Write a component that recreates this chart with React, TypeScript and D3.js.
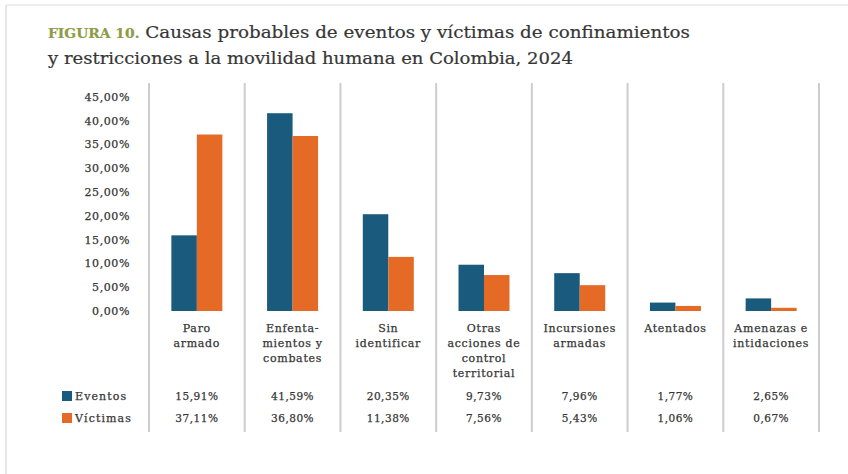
import React from "react";
import * as d3 from "d3";

const categories: string[][] = [
  ["Paro", "armado"],
  ["Enfenta-", "mientos y", "combates"],
  ["Sin", "identificar"],
  ["Otras", "acciones de", "control", "territorial"],
  ["Incursiones", "armadas"],
  ["Atentados"],
  ["Amenazas e", "intidaciones"],
];
const eventos = [15.91, 41.59, 20.35, 9.73, 7.96, 1.77, 2.65];
const victimas = [37.11, 36.8, 11.38, 7.56, 5.43, 1.06, 0.67];
const seriesNames = ["Eventos", "Víctimas"];
const yTicks = [0, 5, 10, 15, 20, 25, 30, 35, 40, 45];

const W = 848;
const H = 474;
const BLUE = "#1a5a7d";
const ORANGE = "#e56a26";
const GRID = "#cdcdcd";
const TEXT = "#363636";
const FONT = "'DejaVu Serif', 'Liberation Serif', serif";

const fmt = (v: number) => v.toFixed(2).replace(".", ",") + "%";

export default function App() {
  const keys = categories.map((_, i) => String(i));
  const x = d3.scaleBand<string>().domain(keys).range([149, 819]).paddingInner(0).paddingOuter(0);
  const y = d3.scaleLinear().domain([0, 45]).range([311, 97]);
  const bw = x.bandwidth();
  const x1 = d3.scaleBand<string>().domain(seriesNames).range([0, 51]);
  const series = [eventos, victimas];
  const colors = [BLUE, ORANGE];
  const edges = [...keys.map((k) => x(k)!), x.range()[1]];
  const small = { fontSize: 11, letterSpacing: 0.9, fill: TEXT, stroke: TEXT, strokeWidth: 0.25 };

  return (
    <svg
      width={W}
      height={H}
      style={{ position: "absolute", left: 0, top: 0, background: "#fff" }}
      fontFamily={FONT}
    >
      <rect x={0} y={0} width={W} height={H} fill="#fff" />
      <line x1={6} x2={W} y1={5} y2={5} stroke="#eeeeee" strokeWidth={2} />
      <line x1={6} x2={6} y1={5} y2={H} stroke="#e6e6e6" strokeWidth={2} />

      {/* Title */}
      <text x={48} y={38} fontSize={16.5} fill={TEXT} stroke={TEXT} strokeWidth={0.2} textLength={642} lengthAdjust="spacingAndGlyphs">
        <tspan fill="#8d9b46" stroke="#8d9b46" fontSize={12.5} fontWeight="bold">FIGURA 10.</tspan>
        <tspan> Causas probables de eventos y víctimas de confinamientos</tspan>
      </text>
      <text x={48} y={64} fontSize={16.5} fill={TEXT} stroke={TEXT} strokeWidth={0.2} textLength={525} lengthAdjust="spacingAndGlyphs">
        y restricciones a la movilidad humana en Colombia, 2024
      </text>

      {/* separators */}
      {edges.map((e, i) => (
        <line key={i} x1={e} x2={e} y1={83} y2={432} stroke={GRID} strokeWidth={2} />
      ))}

      {/* y ticks */}
      {yTicks.map((t) => (
        <text key={t} x={130} y={y(t)} dy="0.35em" textAnchor="end" {...small} letterSpacing={0.6}>
          {fmt(t)}
        </text>
      ))}

      {/* bars */}
      {keys.map((k, i) => {
        const cx = x(k)! + bw / 2;
        return (
          <g key={k}>
            {series.map((s, j) => (
              <rect
                key={j}
                x={cx - 25.5 + x1(seriesNames[j])!}
                y={y(s[i])}
                width={x1.bandwidth()}
                height={y(0) - y(s[i])}
                fill={colors[j]}
              />
            ))}
            {categories[i].map((line, li) => (
              <text
                key={li}
                x={cx}
                y={332 + li * 15}
                textAnchor="middle"
                {...small}
                letterSpacing={0.7}
              >
                {line}
              </text>
            ))}
            {series.map((s, j) => (
              <text
                key={"v" + j}
                x={cx}
                y={400 + j * 22}
                textAnchor="middle"
                {...small}
                fontSize={10.5}
                letterSpacing={0.5}
              >
                {fmt(s[i])}
              </text>
            ))}
          </g>
        );
      })}

      {/* legend */}
      {seriesNames.map((n, j) => (
        <g key={n}>
          <rect x={62} y={391 + j * 22} width={10} height={10} fill={colors[j]} />
          <text x={75} y={400 + j * 22} {...small} letterSpacing={1.1}>
            {n}
          </text>
        </g>
      ))}
    </svg>
  );
}
